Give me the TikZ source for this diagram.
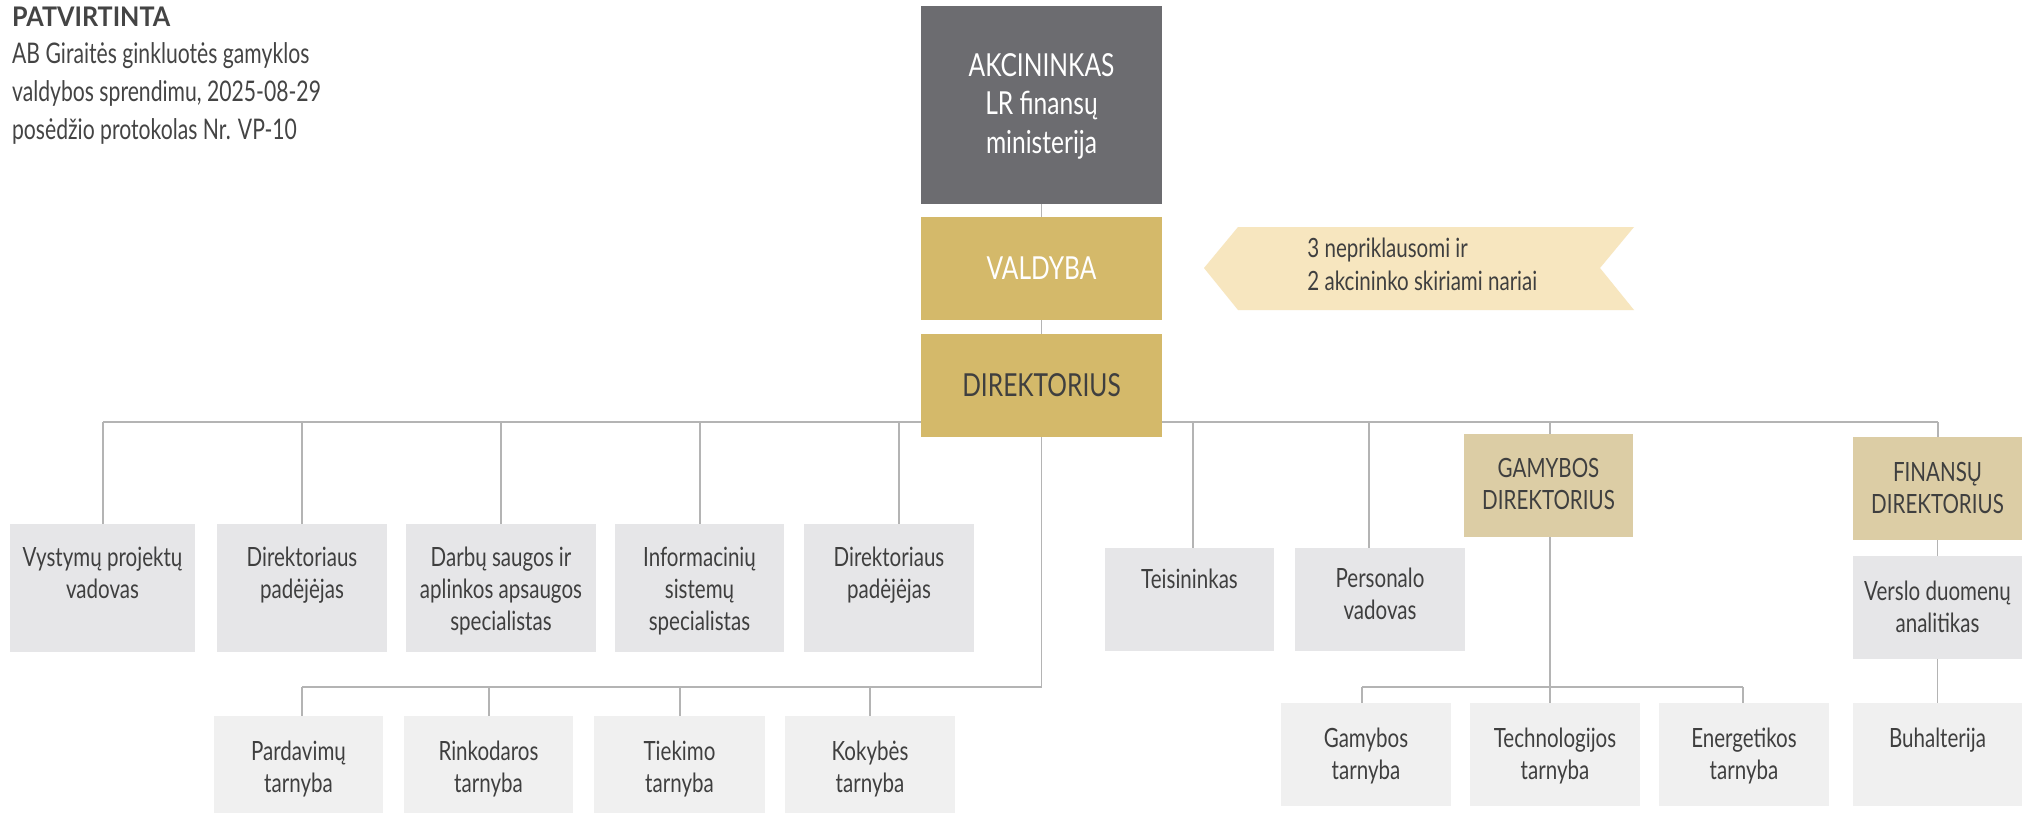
\documentclass[tikz,border=0pt]{standalone}
\usepackage{fontspec}
\setmainfont{Lato}[FakeStretch=0.775]
\newfontfamily\hdfont{Lato}[FakeStretch=0.93]
\newfontfamily\hdlfont{Lato}[FakeStretch=0.745]
\usetikzlibrary{calc}
\definecolor{akcc}{HTML}{6C6C70}
\definecolor{goldc}{HTML}{D4B96A}
\definecolor{tanc}{HTML}{DCCDA5}
\definecolor{creamc}{HTML}{F7E6BF}
\definecolor{boxA}{HTML}{E6E6E8}
\definecolor{boxB}{HTML}{F0F0F0}
\definecolor{lnc}{HTML}{B4B4B4}
\definecolor{ink}{HTML}{3F3F3F}
\definecolor{hdc}{HTML}{444444}
\pgfdeclarelayer{back}
\pgfdeclarelayer{bg}
\pgfsetlayers{back,bg,main}
\newcommand\orgbox[8]{%
  \node[#6, anchor=north west, minimum width={(#4-#2)*0.5pt}, minimum height={(#5-#3)*0.5pt}] (#1) at (#2,#3) {};
  \node[txt, anchor=north] (#1-t) at ($(#1.north)+(0,#7-#3-22.4)$) {\strut #8};
}
\begin{document}
\begin{tikzpicture}[x=0.5pt,y=-0.5pt,
  box/.style={inner sep=0pt, outer sep=0pt, draw=none},
  grayA/.style={box, fill=boxA},
  grayB/.style={box, fill=boxB},
  tanbox/.style={box, fill=tanc},
  txt/.style={font=\fontsize{13.26}{16}\selectfont, text=ink, align=center, inner sep=0pt},
  bigtxt/.style={font=\fontsize{15.85}{19.25}\selectfont, align=center, inner sep=0pt},
  hdtxt/.style={anchor=base west, inner sep=0pt, text=hdc, font=\hdlfont\fontsize{14.2}{19}\selectfont},
  conn/.style={draw=lnc, line width=0.9pt},
]
\useasboundingbox (0,0) rectangle (2029,814);
\begin{pgfonlayer}{back}
\fill[white] (0,0) rectangle (2029,814);
\end{pgfonlayer}

% header
\node[hdtxt, font=\hdfont\bfseries\fontsize{13.5}{19}\selectfont] (hd0) at (11.7,26) {PATVIRTINTA};
\node[hdtxt] (hd1) at (11.7,63.3) {AB Giraitės ginkluotės gamyklos};
\node[hdtxt] (hd2) at (11.7,101.7) {valdybos sprendimu, 2025-08-29};
\node[hdtxt] (hd3) at (11.7,139.3) {posėdžio protokolas Nr. VP-10};

% top chain
\node[box, fill=akcc, anchor=north west, minimum width={241*0.5pt}, minimum height={198*0.5pt}] (akc) at (921,6) {};
\node[bigtxt, text=white, anchor=north] (akc-t) at ($(akc.north)+(0,76-6-27)$) {\strut AKCININKAS\\LR finansų\\ministerija};
\node[box, fill=goldc, anchor=north west, minimum width={241*0.5pt}, minimum height={103*0.5pt}] (val) at (921,217) {};
\node[bigtxt, text=white, anchor=base] (val-t) at (val.north |- 0,279) {VALDYBA};
\node[box, fill=goldc, anchor=north west, minimum width={241*0.5pt}, minimum height={103*0.5pt}] (dir) at (921,334) {};
\node[bigtxt, text=ink, anchor=base] (dir-t) at (dir.north |- 0,396) {DIREKTORIUS};

% banner
\fill[creamc] (1204,268) -- (1238,227) -- (1634,227) -- (1600,268) -- (1634,310) -- (1238,310) -- cycle;
\node[txt, align=left, anchor=north west, font=\fontsize{13.26}{16.5}\selectfont] (ban) at (1307,257-23.1) {\strut 3 nepriklausomi ir\\2 akcininko skiriami nariai};

% top row
\orgbox{vys}{10}{524}{195}{652}{grayA}{566}{Vystymų projektų\\vadovas}
\orgbox{dirA}{217}{524}{387}{652}{grayA}{566}{Direktoriaus\\padėjėjas}
\orgbox{darb}{406}{524}{596}{652}{grayA}{566}{Darbų saugos ir\\aplinkos apsaugos\\specialistas}
\orgbox{info}{615}{524}{784}{652}{grayA}{566}{Informacinių\\sistemų\\specialistas}
\orgbox{dirB}{804}{524}{974}{652}{grayA}{566}{Direktoriaus\\padėjėjas}
\orgbox{teis}{1105}{548}{1274}{651}{grayA}{588}{Teisininkas}
\orgbox{pers}{1295}{548}{1465}{651}{grayA}{587}{Personalo\\vadovas}
\orgbox{gamdir}{1464}{434}{1633}{537}{tanbox}{477}{GAMYBOS\\DIREKTORIUS}
\orgbox{findir}{1853}{437}{2022}{540}{tanbox}{481}{FINANSŲ\\DIREKTORIUS}
\orgbox{versl}{1853}{556}{2022}{659}{grayA}{600}{Verslo duomenų\\analitikas}

% bottom left
\orgbox{pard}{214}{716}{383}{813}{grayB}{760}{Pardavimų\\tarnyba}
\orgbox{rink}{404}{716}{573}{813}{grayB}{760}{Rinkodaros\\tarnyba}
\orgbox{tiek}{594}{716}{765}{813}{grayB}{760}{Tiekimo\\tarnyba}
\orgbox{kok}{785}{716}{955}{813}{grayB}{760}{Kokybės\\tarnyba}

% bottom right
\orgbox{gamt}{1281}{703}{1451}{806}{grayB}{747}{Gamybos\\tarnyba}
\orgbox{tech}{1470}{703}{1640}{806}{grayB}{747}{Technologijos\\tarnyba}
\orgbox{ener}{1659}{703}{1829}{806}{grayB}{747}{Energetikos\\tarnyba}
\orgbox{buh}{1853}{703}{2022}{806}{grayB}{747}{Buhalterija}

% connectors
\coordinate (b1) at (103,422);
\coordinate (b2) at (302,422);
\coordinate (b3) at (501,422);
\coordinate (b4) at (700,422);
\coordinate (b5) at (899,422);
\coordinate (b6) at (1193,422);
\coordinate (b7) at (1369,422);
\coordinate (b8) at (1550,422);
\coordinate (b9) at (1938,422);
\coordinate (dL) at (1041.5,687);
\coordinate (l1) at (302,687);
\coordinate (l2) at (489,687);
\coordinate (l3) at (680,687);
\coordinate (l4) at (870,687);
\coordinate (g1) at (1362,687);
\coordinate (g2) at (1550,687);
\coordinate (g3) at (1743,687);
\begin{pgfonlayer}{bg}
\draw[conn] (akc.south) -- (val.north);
\draw[conn] (val.south) -- (dir.north);
\draw[conn] (b1) -- (b9);
\draw[conn] (b1) -- (b1 |- vys.north);
\draw[conn] (b2) -- (b2 |- dirA.north);
\draw[conn] (b3) -- (b3 |- darb.north);
\draw[conn] (b4) -- (b4 |- info.north);
\draw[conn] (b5) -- (b5 |- dirB.north);
\draw[conn] (b6) -- (b6 |- teis.north);
\draw[conn] (b7) -- (b7 |- pers.north);
\draw[conn] (b8) -- (b8 |- gamdir.north);
\draw[conn] (b9) -- (b9 |- findir.north);
\draw[conn] (dir.south) -- (dL) -- (l1);
\draw[conn] (l1) -- (l1 |- pard.north);
\draw[conn] (l2) -- (l2 |- rink.north);
\draw[conn] (l3) -- (l3 |- tiek.north);
\draw[conn] (l4) -- (l4 |- kok.north);
\draw[conn] (g2 |- gamdir.south) -- (g2 |- tech.north);
\draw[conn] (g1) -- (g3);
\draw[conn] (g1) -- (g1 |- gamt.north);
\draw[conn] (g3) -- (g3 |- ener.north);
\draw[conn] (findir.south) -- (versl.north);
\draw[conn] (versl.south) -- (buh.north);
\end{pgfonlayer}
\end{tikzpicture}
\end{document}
